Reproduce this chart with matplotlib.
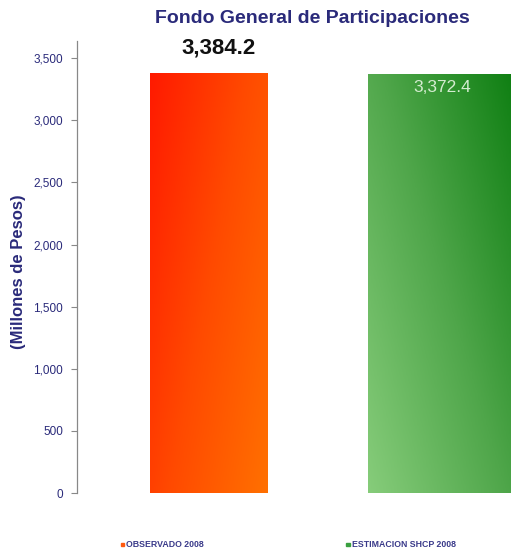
import numpy as np
import matplotlib
matplotlib.use("Agg")
import matplotlib.pyplot as plt
from matplotlib.colors import LinearSegmentedColormap

categories = ["OBSERVADO 2008", "ESTIMACION SHCP 2008"]
values = [3384.2, 3372.4]
value_labels = ["3,384.2", "3,372.4"]
yticks = [0, 500, 1000, 1500, 2000, 2500, 3000, 3500]
ytick_labels = ["0", "500", "1,000", "1,500", "2,000", "2,500", "3,000", "3,500"]

navy = "#2a2a7a"
plt.rcParams["font.family"] = ["Liberation Sans", "DejaVu Sans"]

fig = plt.figure(figsize=(5.11, 5.5), dpi=100)
ax = fig.add_axes([0.151, 0.1036, 0.849, 0.813])

x = np.arange(len(categories))
widths = [0.541, 0.7]
bars = ax.bar(x, values, width=widths, align="edge", color="none", edgecolor="none")

cmaps = [
    LinearSegmentedColormap.from_list("red_grad", ["#ff1a00", "#ff4a00", "#ff7000"]),
    LinearSegmentedColormap.from_list("green_grad", ["#86cc7a", "#4fa64a", "#0c7d10"]),
]
ny, nx = 100, 100
gx, gy = np.meshgrid(np.linspace(0, 1, nx), np.linspace(0, 1, ny))
grads = [
    0.6 * gx + 0.4 * (1 - gy),     # red: deeper at top-left, orange towards lower right
    0.55 * gx + 0.45 * gy,         # green: light at lower left, deep at top-right
]
for bar, cmap, g in zip(bars, cmaps, grads):
    x0, y0 = bar.get_x(), bar.get_y()
    w, h = bar.get_width(), bar.get_height()
    im = ax.imshow(g, cmap=cmap, origin="lower", aspect="auto",
                   extent=[x0, x0 + w, y0, y0 + h], zorder=2)
    im.set_clip_path(bar)

ax.set_xlim(-0.335, 1.656)
ax.set_ylim(0, 3600)

# value labels
ax.annotate(value_labels[0], (bars[0].get_x() + bars[0].get_width() / 2, values[0]),
            xytext=(7, 10), textcoords="offset points", ha="center", va="bottom",
            fontsize=16, fontweight="bold", color="#111111")
ax.annotate(value_labels[1], (bars[1].get_x() + 0.34, values[1]),
            xytext=(0, -4), textcoords="offset points", ha="center", va="top",
            fontsize=12.5, color="#d4ecd0", zorder=5)

ax.set_yticks(yticks)
ax.set_yticklabels(ytick_labels, fontsize=8.5, color=navy)
ax.tick_params(axis="y", direction="out", length=4, width=0.8, color="#888888", pad=6)
ax.set_xticks([])
for s in ["top", "right", "bottom"]:
    ax.spines[s].set_visible(False)
ax.spines["left"].set_color("#888888")
ax.spines["left"].set_linewidth(0.9)
ax.spines["left"].set_bounds(0, 3640)

ax.set_ylabel("(Millones de Pesos)", fontsize=12, fontweight="bold", color=navy)
ax.yaxis.set_label_coords(-0.118, 0.495)

fig.text(0.612, 0.967, "Fondo General de Participaciones", ha="center", va="center",
         fontsize=14, fontweight="bold", color=navy)

# legend entries
leg_colors = ["#ff5a10", "#3aa040"]
leg_x = [0.236, 0.678]
for lx, c, lab in zip(leg_x, leg_colors, categories):
    fig.patches.append(plt.Rectangle((lx, 0.0065), 0.007, 0.007, color=c,
                                     transform=fig.transFigure, figure=fig))
    fig.text(lx + 0.011, 0.0098, lab, ha="left", va="center", fontsize=6.3,
             fontweight="bold", color="#3a3a8a")

fig.savefig("out.png", dpi=100)
